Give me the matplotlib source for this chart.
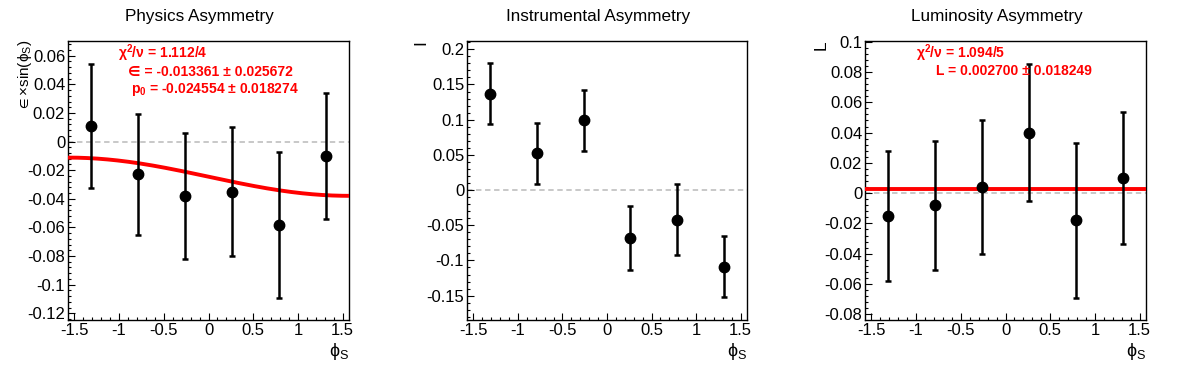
import numpy as np
import matplotlib
matplotlib.use("Agg")
import matplotlib.pyplot as plt
from matplotlib.ticker import MultipleLocator

plt.rcParams['font.family'] = ['Liberation Sans', 'DejaVu Sans']
plt.rcParams['mathtext.fontset'] = 'custom'
plt.rcParams['mathtext.rm'] = 'Liberation Sans'
plt.rcParams['mathtext.it'] = 'Liberation Sans:italic'
plt.rcParams['mathtext.bf'] = 'Liberation Sans:bold'
plt.rcParams['mathtext.fallback'] = 'stixsans'

# bin centres in phi_S (6 bins over -pi/2..pi/2)
phi_s = [-1.309, -0.785, -0.262, 0.262, 0.785, 1.309]

# Physics asymmetry
phys_val = [0.011, -0.023, -0.038, -0.035, -0.058, -0.010]
phys_err = [0.0435, 0.0425, 0.044, 0.045, 0.051, 0.044]
fit_eps = -0.013361
fit_p0 = -0.024554

# Instrumental asymmetry
inst_val = [0.137, 0.052, 0.099, -0.068, -0.042, -0.109]
inst_err = [0.043, 0.043, 0.0435, 0.045, 0.0505, 0.0435]

# Luminosity asymmetry
lumi_val = [-0.015, -0.008, 0.004, 0.040, -0.018, 0.010]
lumi_err = [0.043, 0.0425, 0.044, 0.045, 0.051, 0.0435]
fit_L = 0.002700

titles = ["Physics Asymmetry", "Instrumental Asymmetry", "Luminosity Asymmetry"]

W, H = 1196, 372
fig = plt.figure(figsize=(W / 100, H / 100), dpi=100)


def px_axes(left, right, top, bottom):
    return fig.add_axes([left / W, 1 - bottom / H, (right - left) / W, (bottom - top) / H])


def style_axis(ax, ylim, ymaj):
    ax.set_xlim(-np.pi / 2, np.pi / 2)
    ax.set_ylim(*ylim)
    ax.xaxis.set_major_locator(MultipleLocator(0.5))
    ax.xaxis.set_minor_locator(MultipleLocator(0.1))
    ax.yaxis.set_major_locator(MultipleLocator(ymaj))
    ax.yaxis.set_minor_locator(MultipleLocator(ymaj / 5))
    ax.tick_params(which='both', direction='in', top=False, right=False,
                   labelsize=12, width=0.8)
    ax.tick_params(which='major', length=5)
    ax.tick_params(which='minor', length=2.5)
    ax.tick_params(axis='y', pad=2)
    ax.tick_params(axis='x', pad=2)
    ax.xaxis.set_major_formatter(plt.FuncFormatter(lambda v, p: f"{v:g}"))
    ax.yaxis.set_major_formatter(plt.FuncFormatter(lambda v, p: f"{round(v, 4):g}"))
    for s in ax.spines.values():
        s.set_linewidth(1.0)
    ax.axhline(0, color='#c4c4c4', ls=(0, (3, 2)), lw=1.3, zorder=1)


def draw_points(ax, vals, errs):
    ax.errorbar(phi_s, vals, yerr=errs, fmt='o', color='black', ms=7.5,
                elinewidth=1.8, capsize=2, capthick=1.8, zorder=4)


pads = [(68, 349), (467, 747), (865, 1146)]
axes = [px_axes(l, r, 41, 320) for l, r in pads]

# panel 1
ax = axes[0]
style_axis(ax, (-0.1247, 0.0703), 0.02)
xs = np.linspace(-np.pi / 2, np.pi / 2, 200)
ax.plot(xs, fit_p0 + fit_eps * np.sin(xs), color='#ff0000', lw=2.8, zorder=3)
draw_points(ax, phys_val, phys_err)

# panel 2
ax = axes[1]
style_axis(ax, (-0.1846, 0.2118), 0.05)
draw_points(ax, inst_val, inst_err)

# panel 3
ax = axes[2]
style_axis(ax, (-0.0838, 0.1005), 0.02)
ax.axhline(fit_L, color='#ff0000', lw=2.8, zorder=3)
draw_points(ax, lumi_val, lumi_err)

# titles centred on each pad
for i, t in enumerate(titles):
    fig.text((i + 0.5) / 3, 1 - 16 / H, t, ha='center', va='center', fontsize=12.3)

# y labels (ROOT style, top-aligned)
ylabels = [r"$\in$×sin($\mathrm{\phi}_\mathrm{S}$)", "I", "L"]
ylab_x = [25, 421, 821]
ylab_size = [11, 12.5, 12.5]
for lab, x, fs in zip(ylabels, ylab_x, ylab_size):
    fig.text(x / W, 1 - 40 / H, lab, rotation=90, ha='center', va='top', fontsize=fs)

# x labels
for l, r in pads:
    fig.text(r / W, 1 - 352 / H, r"$\mathrm{\phi}_\mathrm{S}$", ha='right', va='center', fontsize=13)

# fit results
red = '#ff0000'
fit_lines = [
    (118, 53, r"χ$^\mathbf{2}$/ν = 1.112/4"),
    (128, 72, r"∈ = -0.013361 ± 0.025672"),
    (131, 90, r"p$_\mathbf{0}$ = -0.024554 ± 0.018274"),
    (916, 53, r"χ$^\mathbf{2}$/ν = 1.094/5"),
    (936, 71, r"L = 0.002700 ± 0.018249"),
]
for x, y, s in fit_lines:
    fig.text(x / W, 1 - y / H, s, ha='left', va='center', fontsize=10,
             color=red, fontweight='bold')

fig.savefig("out.png", dpi=100)
